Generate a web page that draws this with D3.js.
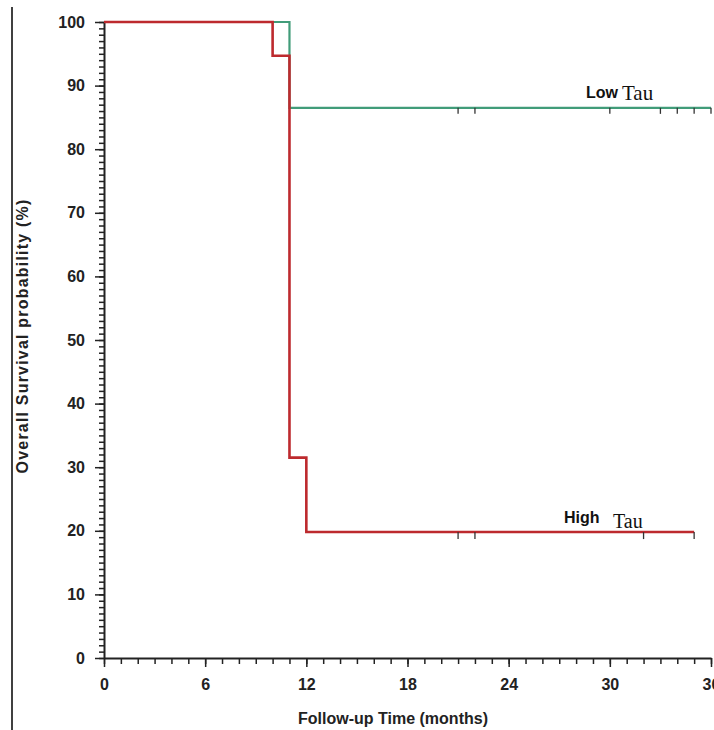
<!DOCTYPE html>
<html>
<head>
<meta charset="utf-8">
<script src="https://cdn.jsdelivr.net/npm/d3@7"></script>
<style>
  body { margin: 0; background: #fff; }
  svg { display: block; }
</style>
</head>
<body>
<div id="vis"></div>
<script>
const w = 714;
const h = 730;
const margin = ({ top: 22, right: 3, bottom: 72, left: 104 });

// Kaplan-Meier steps (months, survival %)
const lowTimes = [0, 11, 36];
const lowSurv = [100, 86.5, 86.5];
const highTimes = [0, 10, 11, 12, 35];
const highSurv = [100, 94.7, 31.5, 19.8, 19.8];

// censored observations
const lowCensor = [21, 22, 30, 33, 34, 35, 36];
const highCensor = [21, 22, 32, 35];

const xTicks = [0, 6, 12, 18, 24, 30, 36];
const yTicks = [0, 10, 20, 30, 40, 50, 60, 70, 80, 90, 100];

const green = '#419c79';
const red = '#bd2a2e';
const sans = 'Liberation Sans, Arial, sans-serif';
const serif = 'Liberation Serif, Times New Roman, serif';

const svg = d3.select('#vis')
    .append('svg')
    .attr('width', w)
    .attr('height', h)

let xScale = d3.scaleLinear()
    .domain([0, 36])
    .range([margin.left, w - margin.right]);

let yScale = d3.scaleLinear()
    .domain([0, 100])
    .range([h - margin.bottom, margin.top]);

// frame line at the left edge
svg.append('line')
    .attr('x1', 12).attr('x2', 12)
    .attr('y1', 7).attr('y2', h)
    .attr('stroke', '#000')
    .attr('stroke-width', 1.5)

// minor ticks
svg.append('g')
    .attr('transform', 'translate(0,' + (h - margin.bottom) + ')')
    .call(d3.axisBottom(xScale).tickValues(d3.range(0, 37)).tickSize(6).tickSizeOuter(0).tickFormat(''))
    .call(g => g.select('.domain').remove())
    .call(g => g.selectAll('line').attr('stroke', '#222').attr('stroke-width', 1.5));

svg.append('g')
    .attr('transform', 'translate(' + margin.left + ',0)')
    .call(d3.axisLeft(yScale).tickValues(d3.range(0, 101)).tickSize(5).tickSizeOuter(0).tickFormat(''))
    .call(g => g.select('.domain').remove())
    .call(g => g.selectAll('line').attr('stroke', '#222').attr('stroke-width', 1.5));

// major axes
let xAxis = d3.axisBottom(xScale)
    .tickValues(xTicks)
    .tickSize(9)
    .tickSizeOuter(0)
    .tickPadding(12);

let yAxis = d3.axisLeft(yScale)
    .tickValues(yTicks)
    .tickSize(9)
    .tickSizeOuter(0)
    .tickPadding(10);

function styleAxis(g) {
    g.select('.domain').attr('stroke', '#222').attr('stroke-width', 2);
    g.selectAll('line').attr('stroke', '#222').attr('stroke-width', 1.5);
    g.selectAll('text')
        .attr('font-family', sans)
        .attr('font-weight', 'bold')
        .attr('font-size', '16px')
        .attr('fill', '#222');
}

svg.append('g')
    .attr('class', 'x axis')
    .attr('transform', 'translate(0,' + (h - margin.bottom) + ')')
    .call(xAxis)
    .call(styleAxis);

svg.append('g')
    .attr('class', 'y axis')
    .attr('transform', 'translate(' + margin.left + ',0)')
    .call(yAxis)
    .call(styleAxis);

// axis titles
svg.append('text')
    .attr('x', 393)
    .attr('y', 724)
    .attr('text-anchor', 'middle')
    .attr('font-family', sans)
    .attr('font-weight', 'bold')
    .attr('font-size', '16px')
    .attr('fill', '#222')
    .text('Follow-up Time (months)')

svg.append('text')
    .attr('transform', 'translate(28,336) rotate(-90)')
    .attr('text-anchor', 'middle')
    .attr('font-family', sans)
    .attr('font-weight', 'bold')
    .attr('font-size', '16px')
    .attr('letter-spacing', '1.2px')
    .attr('fill', '#222')
    .text('Overall Survival probability (%)')

// survival curves
let line = d3.line()
    .x(d => xScale(d[0]))
    .y(d => yScale(d[1]))
    .curve(d3.curveStepAfter);

const lowPts = lowTimes.map((t, i) => [t, lowSurv[i]]);
const highPts = highTimes.map((t, i) => [t, highSurv[i]]);

svg.append('path')
    .datum(lowPts)
    .attr('d', line)
    .attr('fill', 'none')
    .attr('stroke', green)
    .attr('stroke-width', 2.2)

svg.append('path')
    .datum(highPts)
    .attr('d', line)
    .attr('fill', 'none')
    .attr('stroke', red)
    .attr('stroke-width', 2.6)

// censor marks
svg.selectAll('.cens-low')
    .data(lowCensor)
    .join('line')
    .attr('class', 'cens-low')
    .attr('x1', d => xScale(d)).attr('x2', d => xScale(d))
    .attr('y1', yScale(lowSurv[1])).attr('y2', yScale(lowSurv[1]) + 6)
    .attr('stroke', '#333')
    .attr('stroke-width', 1.3)

svg.selectAll('.cens-high')
    .data(highCensor)
    .join('line')
    .attr('class', 'cens-high')
    .attr('x1', d => xScale(d)).attr('x2', d => xScale(d))
    .attr('y1', yScale(highSurv[3])).attr('y2', yScale(highSurv[3]) + 7)
    .attr('stroke', '#333')
    .attr('stroke-width', 1.3)

// group labels
function groupLabel(x1, y1, first, x2, y2, size2) {
    svg.append('text')
        .attr('x', x1)
        .attr('y', y1)
        .attr('fill', '#111')
        .attr('font-family', sans)
        .attr('font-weight', 'bold')
        .attr('font-size', '16px')
        .text(first);
    svg.append('text')
        .attr('x', x2)
        .attr('y', y2)
        .attr('fill', '#111')
        .attr('font-family', serif)
        .attr('font-size', size2 + 'px')
        .text('Tau');
}

groupLabel(586, 98, 'Low', 622, 100, 21);
groupLabel(564, 523, 'High', 613, 528, 20);
</script>
</body>
</html>
